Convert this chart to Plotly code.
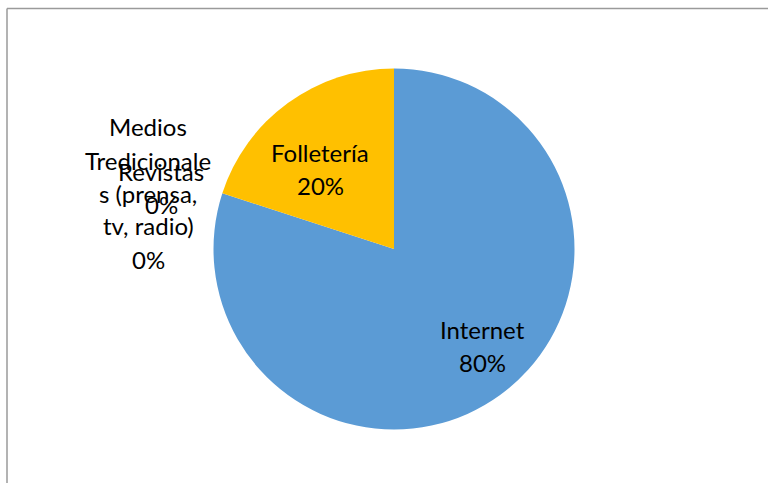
import plotly.graph_objects as go

# Survey shares by information channel
categories = ["Internet", "Folletería", "Revistas", "Medios Tredicionales (prensa, tv, radio)"]
values = [80, 20, 0, 0]
colors = ["#5B9BD5", "#FFC000", "#A5A5A5", "#ED7D31"]

# How each category name is wrapped on the chart
label_lines = {
    "Internet": ["Internet"],
    "Folletería": ["Folletería"],
    "Revistas": ["Revistas"],
    "Medios Tredicionales (prensa, tv, radio)": ["Medios", "Tredicionale", "s (prensa,", "tv, radio)"],
}

W, H = 768, 483
cx, cy, r = 394, 249, 180.5

fig = go.Figure(go.Pie(
    labels=categories,
    values=values,
    marker=dict(colors=colors, line=dict(width=0)),
    sort=False,
    direction="clockwise",
    rotation=0,
    textinfo="none",
    hoverinfo="label+percent",
    showlegend=False,
    domain=dict(x=[(cx - r) / W, (cx + r) / W],
                y=[(H - cy - r) / H, (H - cy + r) / H]),
))

# Label block centres (pixels) and line spacing
label_pos = {
    "Internet": (482, 329),
    "Folletería": (320, 152),
    "Revistas": (161, 172),
    "Medios Tredicionales (prensa, tv, radio)": (148, 127),
}
line_gap = 33
total = sum(values)
font = dict(family="Lato, Carlito, Calibri, sans-serif", size=24, color="#000000")

annotations = []
for cat, v in zip(categories, values):
    lines = label_lines[cat] + [f"{round(100 * v / total)}%"]
    x0, y0 = label_pos[cat]
    for i, t in enumerate(lines):
        annotations.append(dict(
            text=t, x=x0 / W, y=1 - (y0 + i * line_gap) / H,
            xref="paper", yref="paper", xanchor="center", yanchor="middle",
            showarrow=False, font=font,
        ))

# Chart-area frame (top and left edges visible)
shapes = [
    dict(type="line", xref="paper", yref="paper", x0=7 / W, x1=1, y0=1 - 8.5 / H, y1=1 - 8.5 / H,
         line=dict(color="#9A9A9A", width=1.5)),
    dict(type="line", xref="paper", yref="paper", x0=7 / W, x1=7 / W, y0=0, y1=1 - 8.5 / H,
         line=dict(color="#9A9A9A", width=1.5)),
]

fig.update_layout(
    width=W, height=H,
    margin=dict(l=0, r=0, t=0, b=0),
    paper_bgcolor="white", plot_bgcolor="white",
    annotations=annotations, shapes=shapes,
)

fig.write_html("out.html", config={"displayModeBar": False})
